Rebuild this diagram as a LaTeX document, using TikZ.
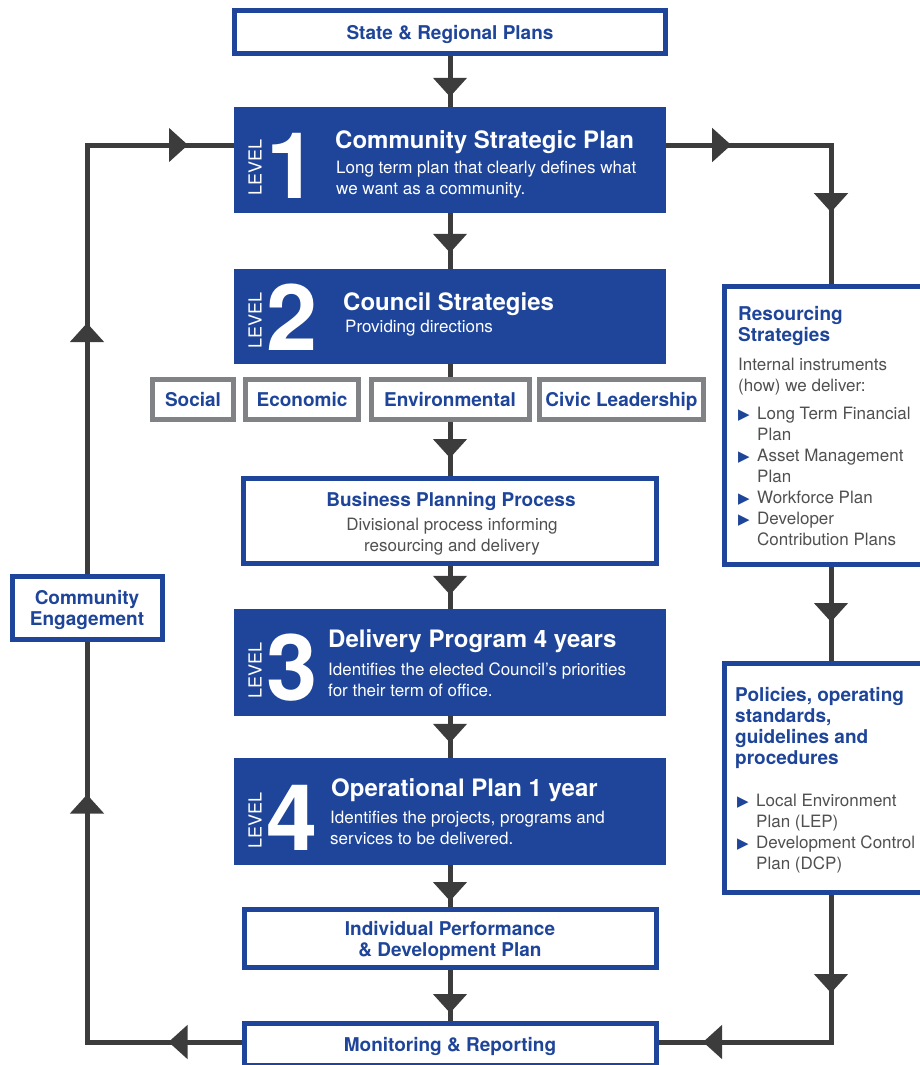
\documentclass[tikz,border=0pt]{standalone}
\usepackage{fontspec}
\setmainfont{TeX Gyre Heros}
\newfontfamily\bltfont{DejaVu Sans}
\usepackage{tikz}
\usetikzlibrary{arrows.meta}
\usetikzlibrary{decorations.markings}

\definecolor{planblue}{RGB}{30,69,153}
\definecolor{linegray}{RGB}{60,60,60}
\definecolor{framegray}{RGB}{128,130,133}
\definecolor{textgray}{RGB}{80,80,80}

\newcommand{\labelfont}{\fontsize{19}{21}\selectfont\bfseries}
\newcommand{\bodyfont}{\fontsize{17}{21}\selectfont}
\newcommand{\titlefont}{\fontsize{24}{28}\selectfont\bfseries}
\newcommand{\numfont}{\fontsize{92}{92}\selectfont\bfseries}
\newcommand{\tagfont}{\fontsize{18}{18}\selectfont}
\newcommand{\blt}{\makebox[19pt][l]{\bltfont\fontsize{15}{15}\selectfont\color{planblue}▶}}
\newcommand{\ind}{\hspace*{19pt}}

\tikzstyle{planframe}=[draw=planblue, line width=5pt, fill=white, text=planblue, font=\labelfont, align=center, inner sep=0pt, text depth=0pt]
\tikzstyle{tagframe}=[planframe, draw=framegray]
\tikzstyle{lvbox}=[fill=planblue, inner sep=0pt, minimum width=432]
\tikzstyle{lvtag}=[rotate=90, text=white, font=\tagfont, inner sep=0pt]
\tikzstyle{lvnum}=[anchor=base west, text=white, font=\numfont, inner sep=0pt]
\tikzstyle{lvtitle}=[anchor=base west, text=white, font=\titlefont, inner sep=0pt]
\tikzstyle{lvsub}=[anchor=base west, text=white, font=\bodyfont, align=left, inner sep=0pt]
\tikzstyle{sidetitle}=[anchor=base west, text=planblue, font=\labelfont, align=left, inner sep=0pt]
\tikzstyle{sidetext}=[anchor=base west, text=textgray, font=\bodyfont, align=left, inner sep=0pt]
\tikzstyle{flow}=[color=linegray, line width=5pt]
\tikzset{
  flowtip/.tip={Triangle[width=33pt,length=19pt]},
  midtip/.style={postaction={decorate,decoration={markings,mark=at position #1 with {\arrow{flowtip}}}}},
}

\begin{document}
\begin{tikzpicture}[x=1pt,y=-1pt]
    \useasboundingbox (0,0) rectangle (920,1065);
    \clip (0,0) rectangle (920,1065);
    \fill[white] (0,0) rectangle (920,1065);

    % centre column (multi-line texts sit on their last baseline)
    \node[planframe, minimum width=431, minimum height=43] (state) at (450,32) {State \& Regional Plans};

    \node[lvbox, minimum height=106] (lv1) at (450,160) {};
    \node[lvtag] (lv1tag) at (255,167.5) {LEVEL};
    \node[lvnum] (lv1num) at (266,198) {1};
    \node[lvtitle] (lv1title) at (335,148) {Community Strategic Plan};
    \node[lvsub] (lv1sub) at (336,194) {Long term plan that clearly defines what\\we want as a community.};

    \node[lvbox, minimum height=95] (lv2) at (450,316.5) {};
    \node[lvtag] (lv2tag) at (255,320.5) {LEVEL};
    \node[lvnum] (lv2num) at (266,350) {2};
    \node[lvtitle] (lv2title) at (343,310) {Council Strategies};
    \node[lvsub] (lv2sub) at (345,332) {Providing directions};

    \node[tagframe, minimum width=81, minimum height=40] (social) at (193,399.5) {Social};
    \node[tagframe, minimum width=113, minimum height=40] (economic) at (302,399.5) {Economic};
    \node[tagframe, minimum width=158, minimum height=40] (env) at (450,399.5) {Environmental};
    \node[tagframe, minimum width=164, minimum height=40] (civic) at (621.5,399.5) {Civic Leadership};

    \node[planframe, minimum width=413, minimum height=85] (bpp) at (450,521) {};
    \node[anchor=base, text=planblue, font=\labelfont] (bpptitle) at (451,506) {Business Planning Process};
    \node[anchor=base, text=textgray, font=\bodyfont, align=center, inner sep=0pt] (bpptext) at (452,551) {Divisional process informing\\resourcing and delivery};

    \node[lvbox, minimum height=107] (lv3) at (450,662.5) {};
    \node[lvtag] (lv3tag) at (255,670.5) {LEVEL};
    \node[lvnum] (lv3num) at (266,700) {3};
    \node[lvtitle] (lv3title) at (328,647) {Delivery Program 4 years};
    \node[lvsub] (lv3sub) at (328,696) {Identifies the elected Council’s priorities\\for their term of office.};

    \node[lvbox, minimum height=107] (lv4) at (450,811.5) {};
    \node[lvtag] (lv4tag) at (255,820) {LEVEL};
    \node[lvnum] (lv4num) at (266,850) {4};
    \node[lvtitle] (lv4title) at (331,796) {Operational Plan 1 year};
    \node[lvsub] (lv4sub) at (330,844) {Identifies the projects, programs and\\services to be delivered.};

    \node[planframe, minimum width=412, minimum height=58] (ipdp) at (450,938.5) {Individual Performance\\\& Development Plan};
    \node[planframe, minimum width=412, minimum height=42] (mr) at (450,1044.5) {Monitoring \& Reporting};

    % side boxes
    \node[planframe, minimum width=150, minimum height=63] (ce) at (87,608) {Community\\Engagement};

    \node[planframe, minimum width=213, minimum height=278] (rs) at (831,425.5) {};
    \node[sidetitle] (rstitle) at (738,341) {Resourcing\\Strategies};
    \node[sidetext] (rstext) at (738,545) {Internal instruments\\(how) we deliver:\\[7pt]
        \blt Long Term Financial\\ \ind Plan\\ \blt Asset Management\\ \ind Plan\\
        \blt Workforce Plan\\ \blt Developer\\ \ind Contribution Plans};

    \node[planframe, minimum width=213, minimum height=229] (ps) at (831,778) {};
    \node[sidetitle] (pstitle) at (735,764) {Policies, operating\\standards,\\guidelines and\\procedures};
    \node[sidetext] (pstext) at (737,869) {\blt Local Environment\\ \ind Plan (LEP)\\
        \blt Development Control\\ \ind Plan (DCP)};

    % loop corners
    \coordinate (lt) at (87,145);
    \coordinate (lb) at (87,1042);
    \coordinate (rt) at (831,145);
    \coordinate (rb) at (831,1042);

    \draw[flow, midtip=-10pt] (state) -- (lv1);
    \draw[flow, midtip=-16pt] (lv1) -- (lv2);
    \draw[flow] (lv2) -- (env);
    \draw[flow, midtip=-18pt] (env) -- (bpp);
    \draw[flow, midtip=-14pt] (bpp) -- (lv3);
    \draw[flow, midtip=-15pt] (lv3) -- (lv4);
    \draw[flow, midtip=-6pt] (lv4) -- (ipdp);
    \draw[flow, midtip=-8pt] (ipdp) -- (mr);

    \draw[flow, midtip=73pt, midtip=402pt] (mr.west |- lb) -- (lb) -- (ce);
    \draw[flow, midtip=251pt, midtip=530pt] (ce) -- (lt) -- (lt -| lv1.west);
    \draw[flow, midtip=65pt, midtip=232pt] (rt -| lv1.east) -- (rt) -- (rs);
    \draw[flow, midtip=55pt] (rs) -- (ps);
    \draw[flow, midtip=98pt, midtip=275pt] (ps) -- (rb) -- (rb -| mr.east);
\end{tikzpicture}
\end{document}
